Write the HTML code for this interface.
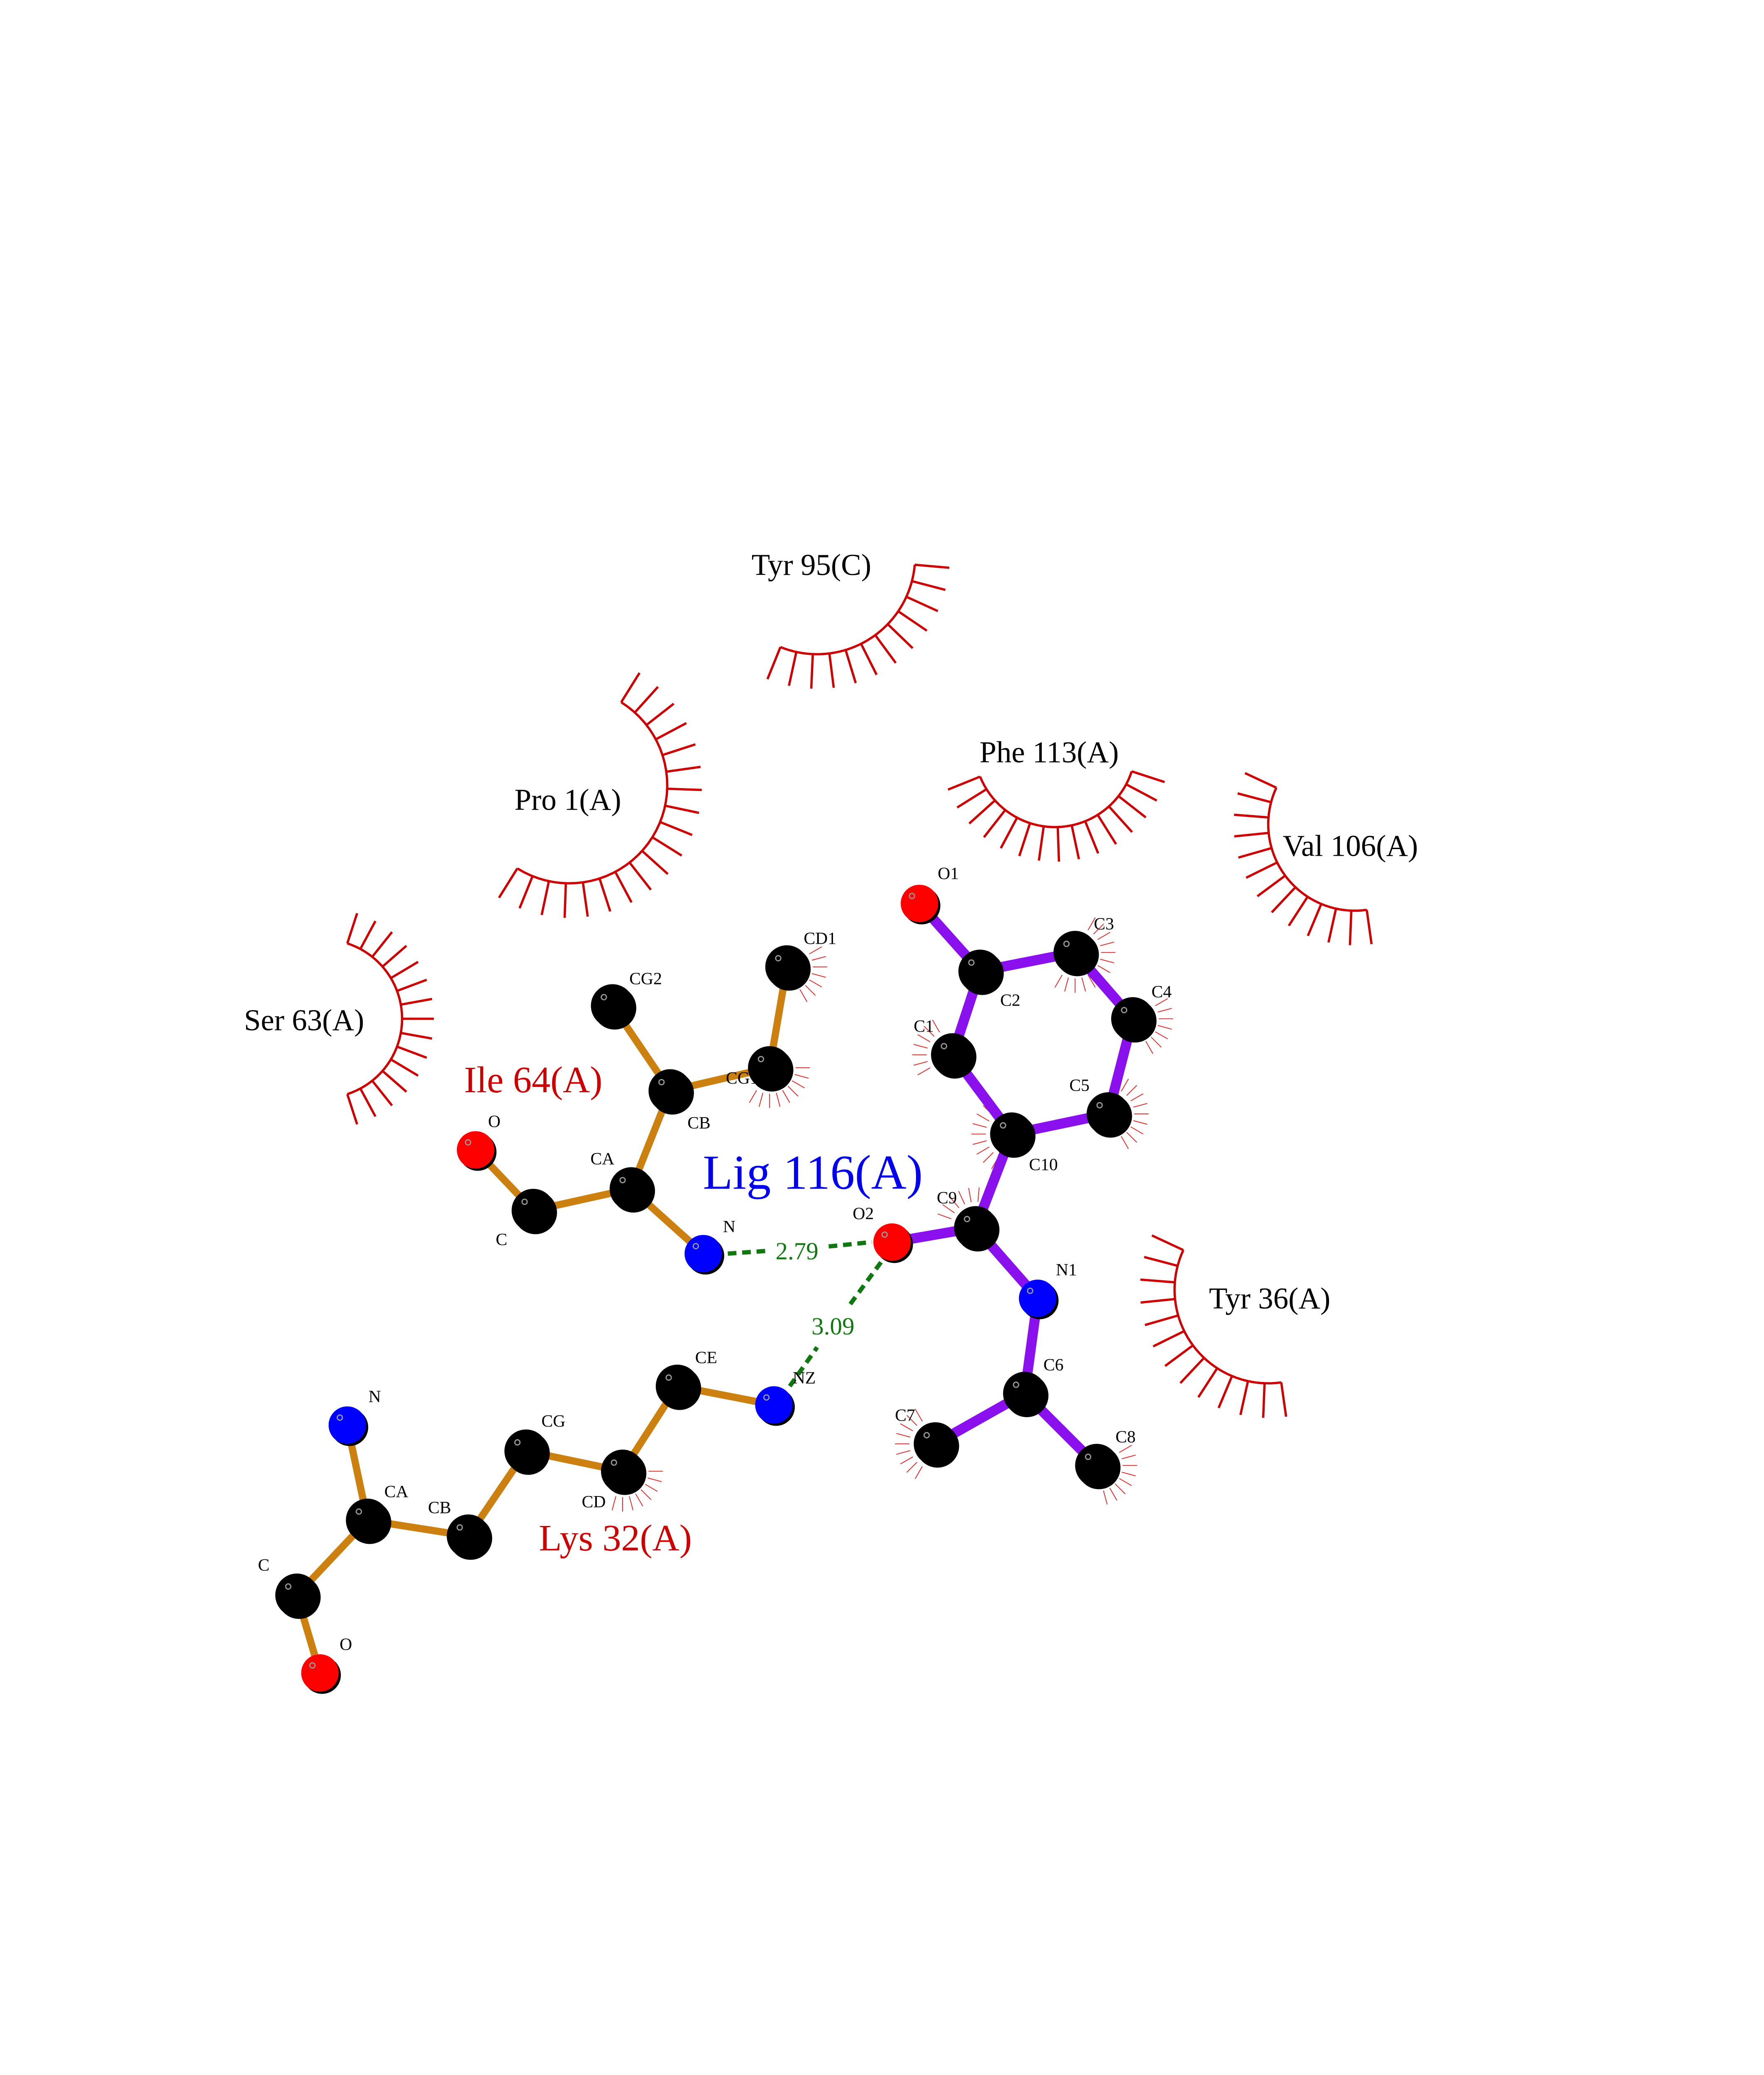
<!DOCTYPE html>
<html><head><meta charset="utf-8"><style>
html,body{margin:0;padding:0;background:#fff;width:4250px;height:5500px;overflow:hidden;}
svg{display:block;position:absolute;left:0;top:0;}
text{font-family:"Liberation Serif",serif;}
</style></head><body>
<svg id="s" xmlns="http://www.w3.org/2000/svg" width="4250" height="5500" viewBox="0 0 1224 1584">
<rect width="1224" height="1584" fill="#fff"/>
<g id="arcs" stroke="#cc0000" stroke-width="1.6" fill="none"></g>
<g id="ticks" stroke="#dd3333" stroke-width="0.6" fill="none"></g>
<g id="bonds" stroke-linecap="round"></g>
<g id="hb" stroke="#117711" stroke-width="3" stroke-dasharray="6,4"></g>
<g id="atoms"></g>
<g id="labels" font-size="12" fill="#000"></g>
<g font-size="21" fill="#000" text-anchor="middle">
<text x="563" y="399">Tyr 95(C)</text>
<text x="394" y="562">Pro 1(A)</text>
<text x="728" y="529">Phe 113(A)</text>
<text x="937" y="594">Val 106(A)</text>
<text x="211" y="715">Ser 63(A)</text>
<text x="881" y="908">Tyr 36(A)</text>
</g>
<text x="370" y="758" font-size="26" fill="#cc0000" text-anchor="middle">Ile 64(A)</text>
<text x="427" y="1076" font-size="26" fill="#cc0000" text-anchor="middle">Lys 32(A)</text>
<text x="564" y="825" font-size="34" fill="#0000ee" text-anchor="middle">Lig 116(A)</text>
<text x="553" y="874" font-size="17" fill="#117711" text-anchor="middle">2.79</text>
<text x="578" y="926" font-size="17" fill="#117711" text-anchor="middle">3.09</text>
<text x="58" y="1470" font-size="14">.</text>
</svg>
<script>
var NS="http://www.w3.org/2000/svg";
function el(p,t,a){var e=document.createElementNS(NS,t);for(var k in a)e.setAttribute(k,a[k]);document.getElementById(p).appendChild(e);return e;}
var A={
iO:[330,798,'O','r',[343,782]],iC:[370,840,'C','k',[348,864]],iCA:[438,825,'CA','k',[418,808]],iN:[488,870,'N','b',[506,855]],
iCB:[465,757,'CB','k',[485,783]],iCG2:[425,698,'CG2','k',[448,683]],iCG1:[534,741,'CG1','k',[515,752]],iCD1:[546,671,'CD1','k',[569,655]],
kN:[241,989,'N','b',[260,973]],kCA:[255,1055,'CA','k',[275,1039]],kC:[206,1107,'C','k',[183,1090]],kO:[222,1161,'O','r',[240,1145]],
kCB:[325,1066,'CB','k',[305,1050]],kCG:[365,1007,'CG','k',[384,990]],kCD:[432,1021,'CD','k',[412,1046]],kCE:[470,962,'CE','k',[490,946]],kNZ:[537,975,'NZ','b',[558,960]],
O1:[638,627,'O1','r',[658,610]],C2:[680,674,'C2','k',[701,698]],C3:[746,661,'C3','k',[766,645]],C4:[786,707,'C4','k',[806,692]],
C5:[769,773,'C5','k',[749,757]],C10:[702,787,'C10','k',[724,812]],C1:[661,732,'C1','k',[641,716]],C9:[677,852,'C9','k',[657,835]],
O2:[619,862,'O2','r',[599,846]],N1:[720,901,'N1','b',[740,885]],C6:[711,967,'C6','k',[731,951]],C7:[649,1002,'C7','k',[628,986]],C8:[761,1017,'C8','k',[781,1001]]};
var orange=[['iO','iC'],['iC','iCA'],['iCA','iN'],['iCA','iCB'],['iCB','iCG2'],['iCB','iCG1'],['iCG1','iCD1'],
['kN','kCA'],['kCA','kC'],['kC','kO'],['kCA','kCB'],['kCB','kCG'],['kCG','kCD'],['kCD','kCE'],['kCE','kNZ']];
var purple=[['O1','C2'],['C2','C3'],['C3','C4'],['C4','C5'],['C5','C10'],['C10','C1'],['C1','C2'],['C10','C9'],['C9','O2'],['C9','N1'],['N1','C6'],['C6','C7'],['C6','C8']];
orange.forEach(function(b){el('bonds','line',{x1:A[b[0]][0],y1:A[b[0]][1],x2:A[b[1]][0],y2:A[b[1]][1],stroke:'#cc8010','stroke-width':5});});
purple.forEach(function(b){el('bonds','line',{x1:A[b[0]][0],y1:A[b[0]][1],x2:A[b[1]][0],y2:A[b[1]][1],stroke:'#8a10ee','stroke-width':7});});
el('hb','line',{x1:505,y1:870,x2:533,y2:868});el('hb','line',{x1:575,y1:865,x2:605,y2:862});
el('hb','line',{x1:548,y1:962,x2:567,y2:935});el('hb','line',{x1:590,y1:905,x2:612,y2:875});
[['C3',-60,120],['C4',-30,60],['C5',-60,60],['C10',120,240],['C1',150,240],['C9',200,280],['C7',120,250],['C8',-30,80],['iCD1',-30,60],['iCG1',0,120],['kCD',0,110]].forEach(function(t){
 var a=A[t[0]];for(var g=t[1];g<=t[2];g+=15){var r=g*Math.PI/180;
 el('ticks','line',{x1:a[0]+18*Math.cos(r),y1:a[1]+18*Math.sin(r),x2:a[0]+28*Math.cos(r),y2:a[1]+28*Math.sin(r)});}});
for(var k in A){var a=A[k];var c=a[3]=='k'?'#000':(a[3]=='r'?'#ff0000':'#0000ff');var rad=a[3]=='k'?15:13;
 el('atoms','circle',{cx:a[0]+1.5,cy:a[1]+1.5,r:rad,fill:'#000'});
 el('atoms','circle',{cx:a[0],cy:a[1],r:rad,fill:c});
 el('atoms','circle',{cx:a[0]-rad*0.4,cy:a[1]-rad*0.4,r:1.8,fill:'none',stroke:'#999','stroke-width':0.8});
 var t=el('labels','text',{x:a[4][0],y:a[4][1],'text-anchor':'middle'});t.textContent=a[2];}
function arc(cx,cy,r,a0,a1,len){var p='',n=Math.round((a1-a0)/10);
 for(var i=0;i<=40;i++){var g=(a0+(a1-a0)*i/40)*Math.PI/180;p+=(i?'L':'M')+(cx+r*Math.cos(g))+','+(cy+r*Math.sin(g));}
 el('arcs','path',{d:p});
 for(var i=0;i<=n;i++){var g=(a0+(a1-a0)*i/n)*Math.PI/180;
 el('arcs','line',{x1:cx+r*Math.cos(g),y1:cy+r*Math.sin(g),x2:cx+(r+len)*Math.cos(g),y2:cy+(r+len)*Math.sin(g)});}}
arc(567,386,68,5,112,24);
arc(395,545,68,-58,122,24);
arc(732,518,56,18,158,24);
arc(940,572,60,82,205,24);
arc(224,707,55,-72,72,22);
arc(880,895,65,82,205,24);
</script>
</body></html>
